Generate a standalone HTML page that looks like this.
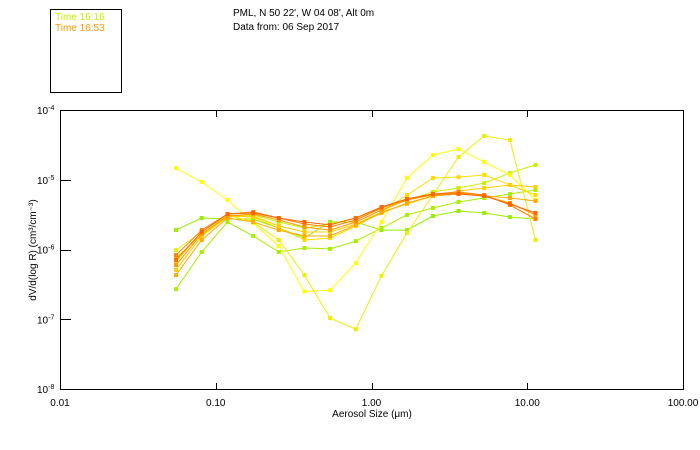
<!DOCTYPE html>
<html><head><meta charset="utf-8"><style>
body{margin:0;background:#fff;}
svg{display:block;font-family:"Liberation Sans",sans-serif;}
</style></head><body>
<svg id="chart" width="700" height="450" viewBox="0 0 700 450" xmlns="http://www.w3.org/2000/svg">
<rect width="700" height="450" fill="#fff"/>
<g>
<rect x="50.5" y="9.5" width="71" height="83" fill="none" stroke="#000" stroke-width="1"/>
<text x="55" y="20" font-size="10" fill="#ccee00">Time 16:16</text>
<text x="55" y="31" font-size="10" fill="#ff9900">Time 16:53</text>
</g>
<text x="233" y="16" font-size="10" fill="#000">PML, N 50 22', W 04 08', Alt 0m</text>
<text x="233" y="30" font-size="10" fill="#000">Data from: 06 Sep 2017</text>
<rect x="60.5" y="110.5" width="623" height="279" fill="none" stroke="#000" stroke-width="1"/>
<g id="axes"></g>
<g id="series"></g>
<text x="372" y="417" font-size="10" text-anchor="middle">Aerosol Size (μm)</text>
<text transform="translate(36,250) rotate(-90)" font-size="10" text-anchor="middle">dV/d(log R) (cm³/cm⁻³)</text>
</svg>
<script>
const sizes=[0.0556,0.0813,0.119,0.174,0.254,0.371,0.542,0.793,1.16,1.69,2.48,3.62,5.29,7.74,11.3];
const xTicks=[0.01,0.1,1,10,100];
const xTickLabels=["0.01","0.10","1.00","10.00","100.00"];
const yTicks=[1e-4,1e-5,1e-6,1e-7,1e-8];
const yTickExp=["-4","-5","-6","-7","-8"];
const seriesNames=["g1","g2","g3","a","b","c","o5","o1","o2","o3","o4"];
const seriesColors=["#99ee00","#aaee00","#ccee00","#ffff00","#eeee00","#ffdd00","#ffcc00","#ffaa00","#ff9900","#ff8000","#ff6600"];
const g1=[1.90e-6,2.83e-6,2.74e-6,2.74e-6,2.03e-6,1.46e-6,2.48e-6,2.48e-6,1.90e-6,1.90e-6,3.02e-6,3.56e-6,3.34e-6,2.92e-6,2.74e-6];
const g2=[2.7e-7,9.2e-7,2.48e-6,1.56e-6,9.2e-7,1.05e-6,1.02e-6,1.32e-6,2.03e-6,3.13e-6,3.94e-6,4.80e-6,5.47e-6,6.25e-6,7.13e-6];
const g3=[7.6e-7,1.61e-6,3.02e-6,3.13e-6,2.48e-6,2.03e-6,2.32e-6,2.83e-6,3.94e-6,5.13e-6,6.68e-6,7.62e-6,8.98e-6,1.25e-5,1.63e-5];
const a=[1.47e-5,9.29e-6,5.13e-6,2.40e-6,1.12e-6,2.5e-7,2.6e-7,6.4e-7,2.48e-6,1.06e-5,2.26e-5,2.76e-5,1.80e-5,1.17e-5,5.13e-6];
const b=[9.8e-7,1.78e-6,3.13e-6,2.48e-6,1.37e-6,4.3e-7,1.04e-7,7.2e-8,4.2e-7,1.72e-6,6.04e-6,2.12e-5,4.24e-5,3.71e-5,1.37e-6];
const c=[6.6e-7,1.78e-6,3.13e-6,2.92e-6,2.03e-6,1.37e-6,1.46e-6,2.17e-6,3.45e-6,6.04e-6,1.06e-5,1.09e-5,1.17e-5,8.41e-6,6.04e-6];
const o5=[5.1e-7,1.56e-6,2.92e-6,3.02e-6,2.17e-6,1.78e-6,1.78e-6,2.32e-6,3.45e-6,4.49e-6,5.85e-6,6.9e-6,7.62e-6,8.41e-6,7.87e-6];
const o1=[4.3e-7,1.37e-6,2.83e-6,2.48e-6,1.90e-6,1.56e-6,1.56e-6,2.25e-6,3.34e-6,4.64e-6,5.85e-6,6.25e-6,5.85e-6,5.47e-6,4.96e-6];
const o2=[6.0e-7,1.67e-6,3.02e-6,3.23e-6,2.65e-6,2.10e-6,1.90e-6,2.48e-6,3.68e-6,5.13e-6,6.04e-6,6.46e-6,5.85e-6,4.64e-6,3.13e-6];
const o3=[8.3e-7,1.90e-6,3.23e-6,3.45e-6,2.83e-6,2.32e-6,2.10e-6,2.65e-6,3.94e-6,5.30e-6,6.25e-6,6.68e-6,6.04e-6,4.35e-6,2.74e-6];
const o4=[7.1e-7,1.78e-6,3.23e-6,3.34e-6,2.83e-6,2.48e-6,2.25e-6,2.83e-6,4.07e-6,5.30e-6,6.25e-6,6.25e-6,5.85e-6,4.49e-6,3.34e-6];
const seriesData=[g1,g2,g3,a,b,c,o5,o1,o2,o3,o4];

const NS="http://www.w3.org/2000/svg";
function xpx(s){return 60+(Math.log10(s)+2)*155.75;}
function ypx(v){return 110+(-4-Math.log10(v))*69.75;}
function mk(tag,attrs,parent){const e=document.createElementNS(NS,tag);for(const k in attrs)e.setAttribute(k,attrs[k]);parent.appendChild(e);return e;}
const axes=document.getElementById('axes');
xTicks.forEach((t,i)=>{
  const x=Math.round(xpx(t))+0.5;
  if(i>0&&i<xTicks.length-1){
    const t1=mk('line',{x1:x,x2:x,y1:389,y2:383,stroke:'#000'},axes);
    
    
    const t2=mk('line',{x1:x,x2:x,y1:111,y2:117,stroke:'#000'},axes);
    
    
  }
  const lb=mk('text',{x:xpx(t),y:406,'font-size':10,'text-anchor':'middle'},axes);
  lb.textContent=xTickLabels[i];
  
  
});
yTicks.forEach((t,i)=>{
  const y=Math.round(ypx(t))+0.5;
  if(i>0&&i<yTicks.length-1){
    const tk=mk('line',{x1:61,x2:71,y1:y,y2:y,stroke:'#000'},axes);
    
    
  }
  const lb=mk('text',{x:37,y:ypx(t)+4,'font-size':10},axes);
  lb.textContent='10';
  const sp=mk('tspan',{dy:-4,'font-size':7},lb);
  sp.textContent=yTickExp[i];
  
  
});
const sg=document.getElementById('series');
seriesData.forEach((vals,si)=>{
  const g=mk('g',{},sg);
  
  
  const pts=vals.map((v,i)=>xpx(sizes[i]).toFixed(1)+','+ypx(v).toFixed(1)).join(' ');
  const pl=mk('polyline',{points:pts,fill:'none',stroke:seriesColors[si],'stroke-width':1},g);
  
  
  vals.forEach((v,i)=>{
    const r=mk('rect',{x:xpx(sizes[i])-2,y:ypx(v)-2,width:4,height:4,fill:seriesColors[si]},g);
    
    
  });
});
</script>
</body></html>
